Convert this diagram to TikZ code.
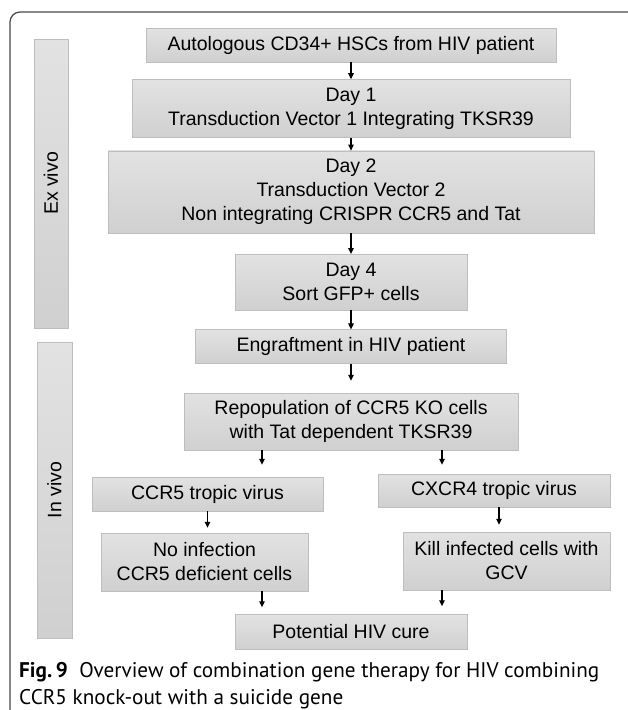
\documentclass[tikz,border=0pt]{standalone}
\usepackage{fontspec}
\setmainfont{Liberation Sans}
\newfontfamily\capfont{PT Sans}
\usetikzlibrary{arrows.meta, positioning}
\definecolor{boxtop}{RGB}{226,226,226}
\definecolor{boxbot}{RGB}{208,208,208}
\definecolor{boxline}{RGB}{190,190,190}
\definecolor{framegray}{RGB}{70,70,70}
\tikzset{
  box/.style={
    rectangle, draw=boxline, top color=boxtop, bottom color=boxbot,
    align=center, inner sep=2pt, font=\fontsize{19.5}{24}\selectfont
  },
  side/.style={box, rotate=90},
  arr/.style={-{Stealth[length=6pt, width=5.5pt, inset=0pt]}, line width=1.1pt},
  capline/.style={font=\capfont\fontsize{21.2}{26}\selectfont, inner sep=0pt, anchor=base west}
}

\begin{document}
\begin{tikzpicture}[x=1pt, y=-1pt]
  \useasboundingbox (0,0) rectangle (627,710);
  \draw[framegray, line width=1.2pt, rounded corners=10pt] (10,712) |- (629,12);

  % phase bars
  \node[side, minimum width=289pt, minimum height=34pt] (exvivo) at (51,183.5) {Ex vivo};
  \node[side, minimum width=296pt, minimum height=35pt] (invivo) at (54.5,490) {In vivo};

  % ex vivo steps
  \node[box, minimum width=410pt, minimum height=34pt] (hsc) at (351,45) {Autologous CD34+ HSCs from HIV patient};
  \node[box, minimum width=438pt, minimum height=58pt, below=17pt of hsc] (day1) {Day 1\\Transduction Vector 1 Integrating TKSR39};
  \node[box, minimum width=486pt, minimum height=82pt, below=13pt of day1] (day2) {Day 2\\Transduction Vector 2\\Non integrating CRISPR CCR5 and Tat};
  \node[box, minimum width=232pt, minimum height=56pt, below=21pt of day2] (day4) {Day 4\\Sort GFP+ cells};
  \node[box, minimum width=311pt, minimum height=34pt, below=19pt of day4] (engraft) {Engraftment in HIV patient};

  % in vivo steps
  \node[box, minimum width=334pt, minimum height=57pt, below=29pt of engraft] (repop) {Repopulation of CCR5 KO cells\\with Tat dependent TKSR39};
  \node[box, minimum width=231pt, minimum height=34pt] (ccr5) at (207.5,494) {CCR5 tropic virus};
  \node[box, minimum width=232pt, minimum height=33pt] (cxcr4) at (494,490.5) {CXCR4 tropic virus};
  \node[box, minimum width=207pt, minimum height=58pt] (noinf) at (204.5,562) {No infection\\CCR5 deficient cells};
  \node[box, minimum width=207pt, minimum height=58pt] (kill) at (506.5,561) {Kill infected cells with\\GCV};
  \node[box, minimum width=232pt, minimum height=35pt] (cure) at (351,632) {Potential HIV cure};

  \coordinate (lx) at (262,0);
  \coordinate (rx) at (442,0);

  \draw[arr] (hsc) -- (day1);
  \draw[arr] (day1) -- (day2);
  \draw[arr] (day2) -- (day4);
  \draw[arr] (day4) -- (engraft);
  \draw[arr, shorten >=12pt] (engraft) -- (repop);
  \draw[arr, shorten >=12pt] (repop.south -| lx) -- (ccr5.north -| lx);
  \draw[arr, shorten >=9pt] (repop.south -| rx) -- (cxcr4.north -| rx);
  \draw[arr, shorten >=5pt] (ccr5.south) -- (ccr5.south |- noinf.north);
  \draw[arr, shorten >=7pt] (cxcr4.south -| 499,0) -- (kill.north -| 499,0);
  \draw[arr, shorten >=7pt] (noinf.south -| lx) -- (cure.north -| lx);
  \draw[arr, shorten >=8pt] (kill.south -| rx) -- (cure.north -| rx);

  % caption
  \node[capline] (cap1) at (19,677) {\textbf{Fig.\,9}\hspace{0.55em}Overview of combination gene therapy for HIV combining};
  \node[capline] (cap2) at (19,704) {CCR5 knock-out with a suicide gene};
\end{tikzpicture}
\end{document}
